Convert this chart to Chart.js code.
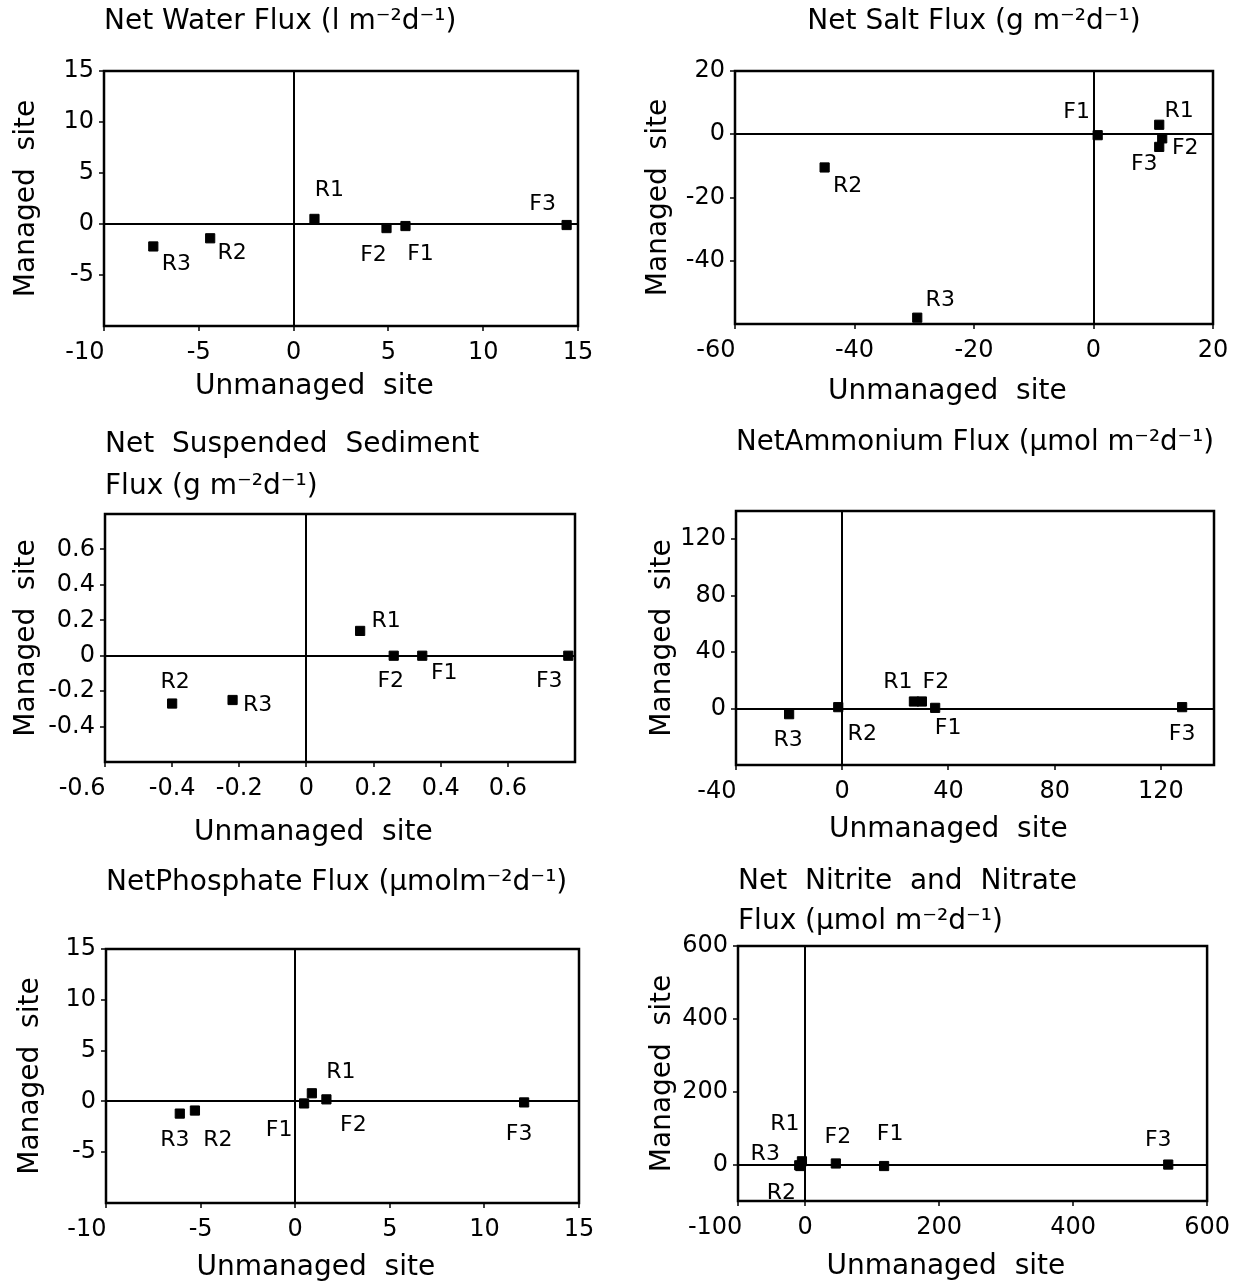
<!DOCTYPE html>
<html>
<head>
<meta charset="utf-8">
<script src="https://cdn.jsdelivr.net/npm/chart.js@4.4.0/dist/chart.umd.min.js"></script>
<style>
  body { margin: 0; background: #fff; }
  #page { position: relative; width: 1237px; height: 1285px; }
  .panel { position: absolute; }
</style>
</head>
<body>
<div id="page"></div>
<script>
// sites, same order in every panel
const sites = ['R1', 'R2', 'R3', 'F1', 'F2', 'F3'];

// net water flux
const waterUnmanaged = [1.1, -4.4, -7.4, 5.9, 4.9, 14.4];
const waterManaged = [0.5, -1.4, -2.2, -0.2, -0.4, -0.1];
const waterXTicks = [-10, -5, 0, 5, 10, 15];
const waterYTicks = [15, 10, 5, 0, -5];

// net salt flux
const saltUnmanaged = [11, -45, -29.5, 0.7, 11.5, 11];
const saltManaged = [3, -10.5, -58, -0.3, -1.3, -4];
const saltXTicks = [-60, -40, -20, 0, 20];
const saltYTicks = [20, 0, -20, -40];

// net suspended sediment flux
const sedUnmanaged = [0.16, -0.4, -0.22, 0.345, 0.26, 0.78];
const sedManaged = [0.14, -0.27, -0.25, 0, 0, 0];
const sedXTicks = [-0.6, -0.4, -0.2, 0, 0.2, 0.4, 0.6];
const sedYTicks = [0.6, 0.4, 0.2, 0, -0.2, -0.4];

// net ammonium flux
const ammUnmanaged = [27, -1.5, -20, 35, 30, 128];
const ammManaged = [5, 1, -4, 0.5, 5, 1];
const ammXTicks = [-40, 0, 40, 80, 120];
const ammYTicks = [120, 80, 40, 0];

// net phosphate flux
const phosUnmanaged = [0.88, -5.3, -6.1, 0.47, 1.65, 12.1];
const phosManaged = [0.8, -0.9, -1.2, -0.2, 0.2, -0.1];
const phosXTicks = [-10, -5, 0, 5, 10, 15];
const phosYTicks = [15, 10, 5, 0, -5];

// net nitrite + nitrate flux
const nitUnmanaged = [-4.6, -6.9, -8.6, 118, 46, 542];
const nitManaged = [9, -4, -2, -4, 3, 0];
const nitXTicks = [-100, 0, 200, 400, 600];
const nitYTicks = [600, 400, 200, 0];

const FONT = 'DejaVu Sans';
const page = document.getElementById('page');

// box around the plot area
const frame = {
  id: 'frame',
  beforeDatasetsDraw(chart) {
    const {left, top, right, bottom} = chart.chartArea;
    const ctx = chart.ctx;
    ctx.save();
    ctx.strokeStyle = '#000';
    ctx.lineWidth = 2.5;
    ctx.strokeRect(left, top, right - left, bottom - top);
    ctx.restore();
  }
};

// site names next to the markers
const pointLabels = {
  id: 'pointLabels',
  afterDatasetsDraw(chart, args, opts) {
    const ctx = chart.ctx;
    const meta = chart.getDatasetMeta(0);
    ctx.save();
    ctx.font = '22px "' + FONT + '"';
    ctx.fillStyle = '#000';
    ctx.textAlign = 'center';
    ctx.textBaseline = 'middle';
    meta.data.forEach((pt, i) => {
      const off = opts.offsets[sites[i]] || [0, 0];
      ctx.fillText(sites[i], pt.x + off[0], pt.y + off[1]);
    });
    ctx.restore();
  }
};

function axisGrid() {
  return {
    color: c => (c.tick && c.tick.value === 0) ? '#000' : 'rgba(0,0,0,0)',
    lineWidth: 2,
    drawTicks: true,
    tickLength: 5,
    tickColor: '#000',
    tickWidth: 1.5
  };
}

function makePanel(p) {
  const [cx, cy, cw, ch] = p.box;
  const [L, T, R, B] = p.area;
  const div = document.createElement('div');
  div.className = 'panel';
  div.style.left = cx + 'px';
  div.style.top = cy + 'px';
  div.style.width = cw + 'px';
  div.style.height = ch + 'px';
  const canvas = document.createElement('canvas');
  div.appendChild(canvas);
  page.appendChild(div);

  const lines = Array.isArray(p.title) ? p.title.length : 1;
  const titleBottom = (T - cy) - p.titleTop - lines * p.titleLine;

  new Chart(canvas, {
    type: 'scatter',
    data: {
      datasets: [{
        data: p.x.map((v, i) => ({x: v, y: p.y[i]})),
        backgroundColor: '#000',
        borderColor: '#000',
        pointStyle: 'rect',
        pointRadius: 6.5,
        pointHoverRadius: 6.5,
        clip: false
      }]
    },
    options: {
      responsive: true,
      maintainAspectRatio: false,
      animation: false,
      layout: {padding: {left: 0, top: 0, right: cx + cw - R, bottom: 0}},
      plugins: {
        legend: {display: false},
        tooltip: {enabled: false},
        title: {
          display: true,
          text: p.title,
          align: p.titleAlign,
          fullSize: false,
          color: '#000',
          font: {family: FONT, size: 28, weight: 'normal', lineHeight: p.titleLine / 28},
          padding: {top: p.titleTop, bottom: titleBottom}
        },
        pointLabels: {offsets: p.offsets}
      },
      scales: {
        x: {
          type: 'linear',
          position: 'bottom',
          min: p.xRange[0],
          max: p.xRange[1],
          afterBuildTicks: s => { s.ticks = p.xTicks.map(v => ({value: v})); },
          afterFit: s => { s.height = cy + ch - B; },
          grid: axisGrid(),
          border: {display: false},
          ticks: {
            color: '#000', font: {family: FONT, size: 24}, padding: 7,
            maxRotation: 0, autoSkip: false,
            // the leftmost label sits to the left of its tick, as in the source figure
            callback: (v, i) => i === 0 ? String(v) + ' '.repeat(String(v).length + 2) : String(v)
          },
          title: {display: true, text: 'Unmanaged  site      ', color: '#000',
                  font: {family: FONT, size: 28}, padding: {top: 0, bottom: p.xTitleGap}}
        },
        y: {
          type: 'linear',
          position: 'left',
          min: p.yRange[0],
          max: p.yRange[1],
          afterBuildTicks: s => { s.ticks = p.yTicks.map(v => ({value: v})); },
          afterFit: s => { s.width = L - cx; },
          grid: axisGrid(),
          border: {display: false},
          ticks: {color: '#000', font: {family: FONT, size: 24}, padding: 5,
                  autoSkip: false, callback: v => String(v)},
          title: {display: true, text: 'Managed  site', color: '#000',
                  font: {family: FONT, size: 28}, padding: {top: p.yTitleGap, bottom: 0}}
        }
      }
    },
    plugins: [frame, pointLabels]
  });
}

makePanel({
  title: 'Net Water Flux (l m\u207b\u00b2d\u207b\u00b9)',
  x: waterUnmanaged, y: waterManaged, xTicks: waterXTicks, yTicks: waterYTicks,
  xRange: [-10, 15], yRange: [-10, 15],
  box: [0, 0, 620, 420], area: [104, 71, 578, 326],
  titleAlign: 'start', titleLine: 30, titleTop: 7, xTitleGap: 16, yTitleGap: 10,
  offsets: {R1: [15, -29], R2: [22, 15], R3: [23, 18], F1: [15, 28], F2: [-13, 27], F3: [-24, -21]}
});

makePanel({
  title: 'Net Salt Flux (g m\u207b\u00b2d\u207b\u00b9)',
  x: saltUnmanaged, y: saltManaged, xTicks: saltXTicks, yTicks: saltYTicks,
  xRange: [-60, 20], yRange: [-60, 20],
  box: [620, 0, 617, 420], area: [735, 71, 1213, 324],
  titleAlign: 'center', titleLine: 30, titleTop: 7, xTitleGap: 11, yTitleGap: 22,
  offsets: {R1: [20, -13], R2: [23, 19], R3: [23, -17], F1: [-21, -23], F2: [23, 10], F3: [-15, 17]}
});

makePanel({
  title: ['Net  Suspended  Sediment', 'Flux (g m\u207b\u00b2d\u207b\u00b9)'],
  x: sedUnmanaged, y: sedManaged, xTicks: sedXTicks, yTicks: sedYTicks,
  xRange: [-0.6, 0.8], yRange: [-0.6, 0.8],
  box: [0, 420, 620, 430], area: [105, 514, 575, 762],
  titleAlign: 'start', titleLine: 42, titleTop: 4, xTitleGap: 0, yTitleGap: 10,
  offsets: {R1: [26, -10], R2: [3, -21], R3: [25, 5], F1: [22, 18], F2: [-3, 26], F3: [-19, 26]}
});

makePanel({
  title: 'NetAmmonium Flux (\u03bcmol m\u207b\u00b2d\u207b\u00b9)',
  x: ammUnmanaged, y: ammManaged, xTicks: ammXTicks, yTicks: ammYTicks,
  xRange: [-40, 140], yRange: [-40, 140],
  box: [620, 420, 617, 430], area: [736, 511, 1214, 765],
  titleAlign: 'center', titleLine: 30, titleTop: 8, xTitleGap: 3, yTitleGap: 26,
  offsets: {R1: [-16, -19], R2: [24, 27], R3: [-1, 26], F1: [13, 20], F2: [14, -19], F3: [0, 27]}
});

makePanel({
  title: 'NetPhosphate Flux (\u03bcmolm\u207b\u00b2d\u207b\u00b9)',
  x: phosUnmanaged, y: phosManaged, xTicks: phosXTicks, yTicks: phosYTicks,
  xRange: [-10, 15], yRange: [-10, 15],
  box: [0, 850, 620, 435], area: [106, 949, 579, 1203],
  titleAlign: 'start', titleLine: 30, titleTop: 18, xTitleGap: 0, yTitleGap: 14,
  offsets: {R1: [29, -21], R2: [23, 30], R3: [-5, 27], F1: [-25, 27], F2: [27, 26], F3: [-5, 32]}
});

makePanel({
  title: ['Net  Nitrite  and  Nitrate', 'Flux (\u03bcmol m\u207b\u00b2d\u207b\u00b9)'],
  x: nitUnmanaged, y: nitManaged, xTicks: nitXTicks, yTicks: nitYTicks,
  xRange: [-100, 600], yRange: [-100, 600],
  box: [620, 850, 617, 435], area: [738, 946, 1217, 1201],
  titleAlign: 'start', titleLine: 40, titleTop: 12, xTitleGap: 1, yTitleGap: 26,
  offsets: {R1: [-17, -37], R2: [-19, 27], R3: [-34, -11], F1: [6, -32], F2: [2, -26], F3: [-10, -24]}
});
</script>
</body>
</html>
